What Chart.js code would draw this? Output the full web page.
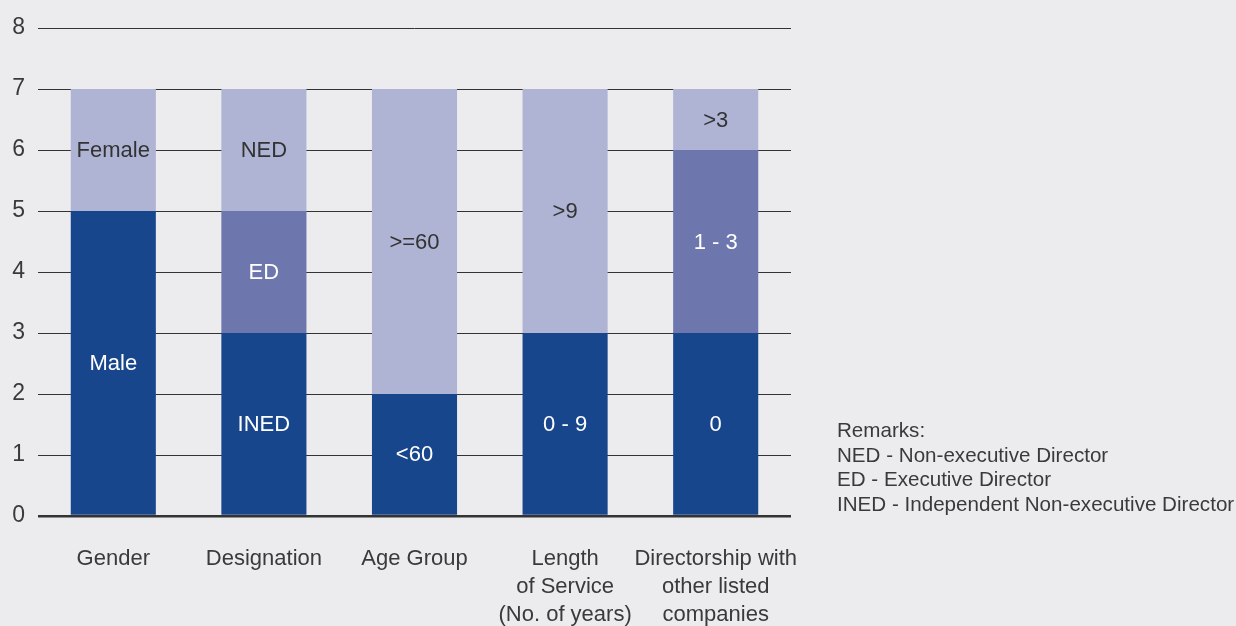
<!DOCTYPE html>
<html>
<head>
<meta charset="utf-8">
<script src="https://cdn.jsdelivr.net/npm/chart.js@4.4.1/dist/chart.umd.min.js"></script>
<style>
  html, body { margin: 0; padding: 0; background: #ececee; }
  #wrap { position: relative; width: 1236px; height: 626px; }
  #remarks { position: absolute; left: 837px; top: 418px; font-family: "Liberation Sans", Arial, sans-serif; font-size: 20.6px; line-height: 24.6px; color: #3a3a3a; white-space: nowrap; }
</style>
</head>
<body>
<div id="wrap">
  <canvas id="c" width="1236" height="626"></canvas>
  <div id="remarks">Remarks:<br>NED - Non-executive Director<br>ED - Executive Director<br>INED - Independent Non-executive Director</div>
</div>
<script>
const categories = [["Gender"], ["Designation"], ["Age Group"], ["Length", "of Service", "(No. of years)"], ["Directorship with", "other listed", "companies"]];
const bottomValues = [5, 3, 2, 3, 3];
const middleValues = [0, 2, 0, 0, 3];
const topValues = [2, 2, 5, 4, 1];
const bottomLabels = ["Male", "INED", "<60", "0 - 9", "0"];
const middleLabels = ["", "ED", "", "", "1 - 3"];
const topLabels = ["Female", "NED", ">=60", ">9", ">3"];
const yTicks = [0, 1, 2, 3, 4, 5, 6, 7, 8];

const FONT = '"Liberation Sans", Arial, sans-serif';

const segLabels = {
  id: 'segLabels',
  afterDatasetsDraw(chart) {
    const ctx = chart.ctx;
    ctx.save();
    ctx.font = '22px ' + FONT;
    ctx.textAlign = 'center';
    ctx.textBaseline = 'middle';
    chart.data.datasets.forEach((ds, di) => {
      const meta = chart.getDatasetMeta(di);
      meta.data.forEach((el, i) => {
        const txt = ds.segLabels[i];
        if (!txt || !ds.data[i]) return;
        const p = el.getProps(['x', 'y', 'base'], true);
        ctx.fillStyle = ds.textColor;
        ctx.fillText(txt, p.x, (p.y + p.base) / 2 + 1);
      });
    });
    ctx.restore();
  }
};

new Chart(document.getElementById('c'), {
  type: 'bar',
  data: {
    labels: categories,
    datasets: [
      { data: bottomValues, backgroundColor: '#18468c', segLabels: bottomLabels, textColor: '#ffffff' },
      { data: middleValues, backgroundColor: '#6d77ae', segLabels: middleLabels, textColor: '#ffffff' },
      { data: topValues, backgroundColor: '#afb4d5', segLabels: topLabels, textColor: '#333333' }
    ]
  },
  options: {
    responsive: false,
    animation: false,
    events: [],
    categoryPercentage: 1,
    barPercentage: 0.565,
    layout: { padding: { top: 28, right: 445, left: 0, bottom: 0 } },
    plugins: { legend: { display: false }, tooltip: { enabled: false } },
    scales: {
      x: {
        stacked: true,
        grid: { display: false },
        border: { display: false },
        ticks: { color: '#3a3a3a', font: { family: FONT, size: 22, lineHeight: 1.27 }, padding: 21, maxRotation: 0, autoSkip: false },
        afterFit(s) { s.height = 110; }
      },
      y: {
        stacked: true,
        min: 0, max: 8,
        afterBuildTicks(s) { s.ticks = yTicks.map(v => ({ value: v })); },
        grid: { color: '#333333', lineWidth: c => c.tick && c.tick.value === 0 ? 2.5 : 1, drawTicks: false },
        border: { display: false },
        ticks: { color: '#3a3a3a', font: { family: FONT, size: 23 }, padding: 13 },
        afterFit(s) { s.width = 38; s.paddingTop = 0; }
      }
    }
  },
  plugins: [segLabels]
});
</script>
</body>
</html>
